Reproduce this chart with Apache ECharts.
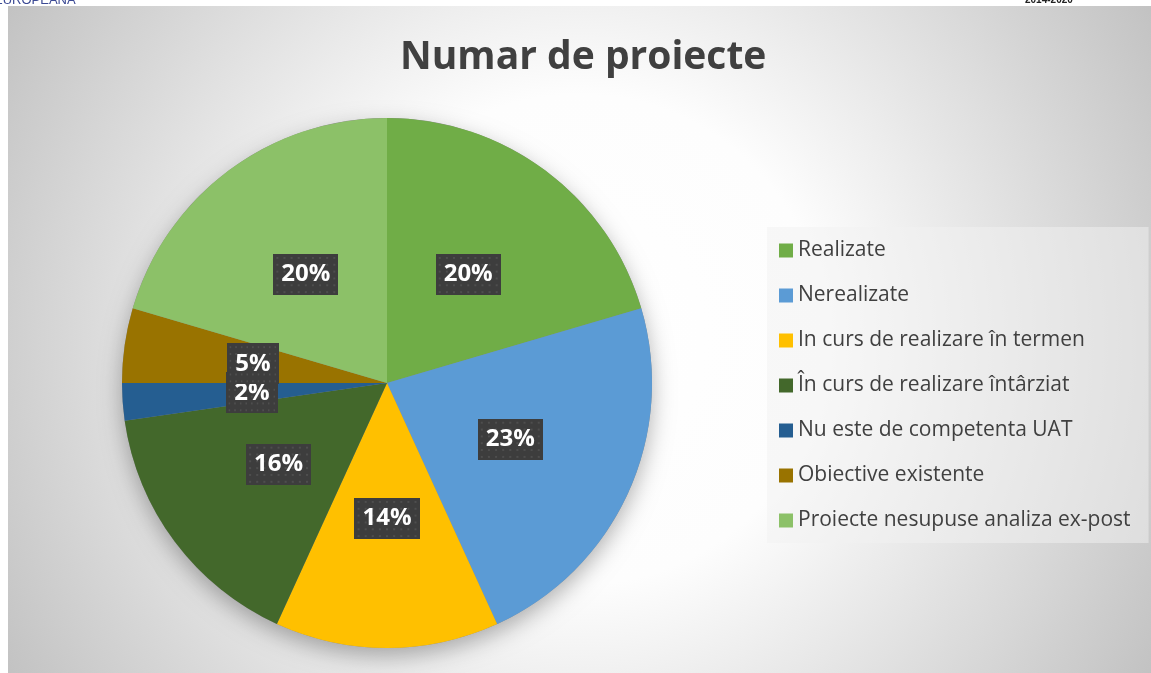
<!DOCTYPE html>
<html>
<head>
<meta charset="utf-8">
<title>Numar de proiecte</title>
<script src="https://cdn.jsdelivr.net/npm/echarts@6/dist/echarts.min.js"></script>
<style>
    html, body { margin: 0; padding: 0; background: #fff; }
    #chart { width: 1151px; height: 673px; }
</style>
</head>
<body>
<div id="chart"></div>
<script>
// date
const categories = [
    'Realizate',
    'Nerealizate',
    'In curs de realizare în termen',
    'În curs de realizare întârziat',
    'Nu este de competenta UAT',
    'Obiective existente',
    'Proiecte nesupuse analiza ex-post'
];
const projectCounts = [9, 10, 6, 7, 1, 2, 9];
const sliceColors = ['#70AD47', '#5B9BD5', '#FFC000', '#43682B', '#255E91', '#997300', '#8CC168'];

const totalProjects = projectCounts.reduce((a, b) => a + b, 0);

// fundal cu puncte pentru etichete
function dotPattern(w, h) {
    const c = document.createElement('canvas');
    c.width = w;
    c.height = h;
    const ctx = c.getContext('2d');
    ctx.fillStyle = '#3d3d3d';
    ctx.fillRect(0, 0, w, h);
    ctx.fillStyle = '#4e4e4e';
    for (let y = 3; y < h; y += 7) {
        for (let x = 3; x < w; x += 7) {
            ctx.fillRect(x, y, 2, 2);
        }
    }
    return c;
}

const chart = echarts.init(document.getElementById('chart'));

const option = {
    animation: false,
    title: {
        text: 'Numar de proiecte',
        left: 395,
        top: 33,
        textStyle: {
            fontFamily: 'Open Sans',
            fontWeight: 'bold',
            fontSize: 39,
            color: '#404040'
        }
    },
    graphic: [
        {
            type: 'rect',
            z: -10,
            silent: true,
            shape: { x: 8, y: 6, width: 1143, height: 667 },
            style: {
                fill: {
                    type: 'radial',
                    x: 0.5,
                    y: 0.5,
                    r: 1.05,
                    colorStops: [
                        { offset: 0, color: '#ffffff' },
                        { offset: 0.35, color: '#fdfdfd' },
                        { offset: 1, color: '#bdbdbd' }
                    ]
                }
            }
        },
        {
            type: 'text',
            left: -6,
            top: -6,
            style: {
                text: 'EUROPEANA',
                fontFamily: 'Liberation Sans',
                fontSize: 13,
                fill: '#3c4a94'
            }
        },
        {
            type: 'text',
            left: 1025,
            top: -5,
            style: {
                text: '2014-2020',
                fontFamily: 'Liberation Sans',
                fontWeight: 'bold',
                fontSize: 10,
                fill: '#222'
            }
        }
    ],
    legend: {
        orient: 'vertical',
        left: 767,
        top: 227,
        padding: [13, 18, 12, 12],
        backgroundColor: 'rgba(242,242,242,0.5)',
        icon: 'rect',
        itemWidth: 14,
        itemHeight: 14,
        itemGap: 24,
        data: categories,
        textStyle: {
            fontFamily: 'Open Sans',
            fontSize: 21,
            lineHeight: 20,
            color: '#404040'
        }
    },
    series: [
        {
            // umbra sub placinta
            type: 'pie',
            silent: true,
            center: [387, 383],
            radius: 265,
            z: 1,
            label: { show: false },
            labelLine: { show: false },
            itemStyle: {
                color: '#8a8a8a',
                shadowBlur: 22,
                shadowOffsetY: 8,
                shadowColor: 'rgba(0,0,0,0.3)'
            },
            data: [{ value: totalProjects, name: '' }]
        },
        {
            type: 'pie',
            name: 'Numar de proiecte',
            center: [387, 383],
            radius: 265,
            startAngle: 90,
            clockwise: true,
            z: 2,
            avoidLabelOverlap: false,
            minShowLabelAngle: 0,
            labelLayout: { hideOverlap: false },
            itemStyle: { borderWidth: 0 },
            labelLine: { show: false },
            label: {
                show: true,
                position: 'inside',
                formatter: (p) => Math.round(p.percent) + '%',
                fontFamily: 'Open Sans',
                fontWeight: 'bold',
                fontSize: 24,
                lineHeight: 27,
                color: '#ffffff',
                backgroundColor: { image: dotPattern(64, 42) },
                padding: [7, 8, 7, 8],
                shadowColor: 'rgba(0,0,0,0.5)',
                shadowBlur: 6,
                shadowOffsetX: 3,
                shadowOffsetY: 3
            },
            emphasis: { scale: false },
            data: categories.map((name, i) => ({
                name: name,
                value: projectCounts[i],
                itemStyle: { color: sliceColors[i] }
            }))
        }
    ]
};

chart.setOption(option);
</script>
</body>
</html>
